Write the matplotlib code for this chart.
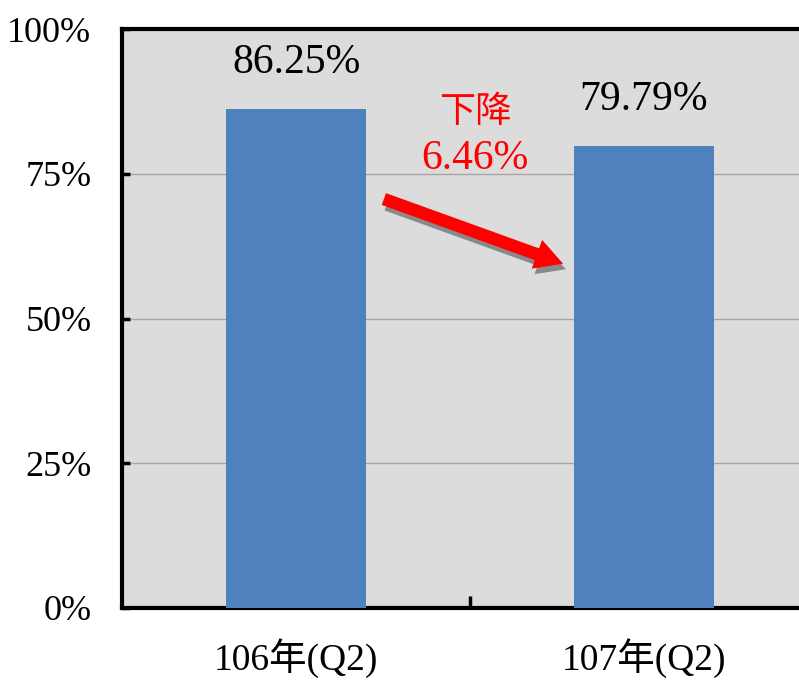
import matplotlib
matplotlib.use("Agg")
import matplotlib.pyplot as plt
import matplotlib.patheffects as pe
import numpy as np

# 資料
categories = ["106年(Q2)", "107年(Q2)"]
values = [86.25, 79.79]
value_labels = ["86.25%", "79.79%"]
y_ticks = [0, 25, 50, 75, 100]
y_tick_labels = ["0%", "25%", "50%", "75%", "100%"]
change_word = "下降"
change_value = "6.46%"

FONT = ["Liberation Serif", "Noto Sans CJK TC"]
plt.rcParams["font.family"] = FONT

fig = plt.figure(figsize=(7.99, 6.80), dpi=100)
ax = fig.add_axes([122 / 799, 72 / 680, 696 / 799, 579 / 680])
ax.set_facecolor("#dcdcdc")

x = np.arange(len(categories))
ax.bar(x, values, width=0.40, color="#4f81bd", zorder=3)

for xi, v, lab in zip(x, values, value_labels):
    ax.text(xi, v + 8, lab, ha="center", va="center", fontsize=30, color="black", zorder=4)

ax.set_xlim(-0.5, 1.5)
ax.set_ylim(0, 100)
ax.set_yticks(y_ticks)
ax.set_yticklabels(y_tick_labels, fontsize=26)
ax.set_xticks(x)
ax.set_xticklabels(categories, fontsize=27)
ax.set_xticks([0.5], minor=True)

ax.tick_params(axis="y", direction="in", length=6, width=2.5, pad=22)
ax.tick_params(axis="x", which="major", length=0, pad=22)
ax.tick_params(axis="x", which="minor", direction="in", length=9, width=2.5)

ax.yaxis.grid(True, color="#a6a6a6", linewidth=1.0, zorder=1)
ax.set_axisbelow(True)

for s in ax.spines.values():
    s.set_linewidth(3)
    s.set_color("black")

# 下降箭頭
ax.annotate(
    "", xy=(0.775, 59.3), xytext=(0.245, 70.8),
    arrowprops=dict(
        arrowstyle="simple,head_width=1.1,head_length=1.0,tail_width=0.45",
        mutation_scale=20, fc="red", ec="red", lw=0,
        path_effects=[pe.SimplePatchShadow(offset=(2, -4), shadow_rgbFace="#808080", alpha=0.9), pe.Normal()],
    ),
    zorder=5,
)
ax.text(0.514, 85.5, change_word, ha="center", va="center", fontsize=26,
        color="red", zorder=5)
ax.text(0.514, 77.6, change_value, ha="center", va="center", fontsize=30,
        color="red", zorder=5)

fig.savefig("out.png", dpi=100)
